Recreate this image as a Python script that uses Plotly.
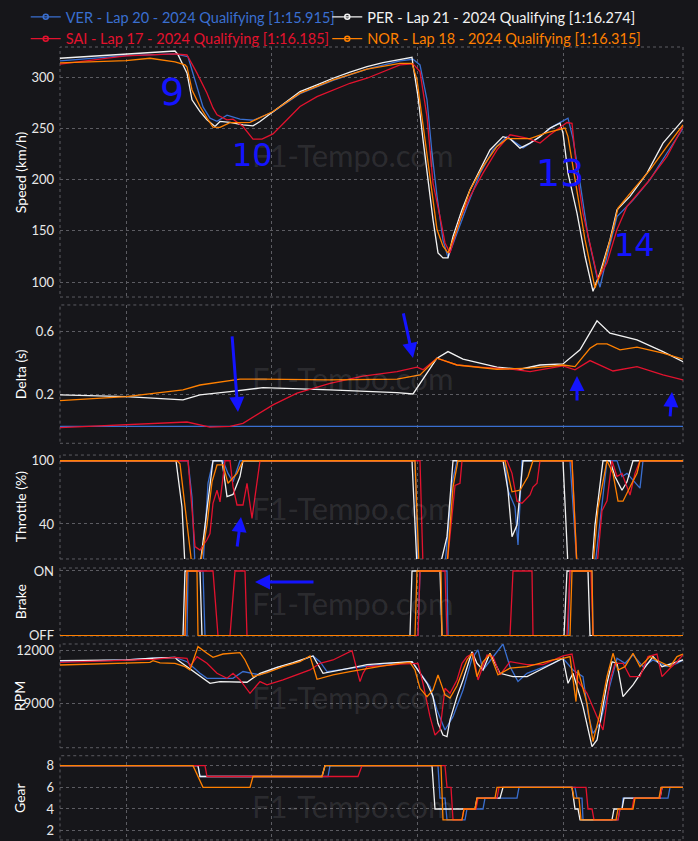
import plotly.graph_objects as go
from plotly.subplots import make_subplots

# ---------------- labels ----------------
drivers = ["VER", "PER", "SAI", "NOR"]
legend_labels = [
    "VER - Lap 20 - 2024 Qualifying [1:15.915]",
    "PER - Lap 21 - 2024 Qualifying [1:16.274]",
    "SAI - Lap 17 - 2024 Qualifying [1:16.185]",
    "NOR - Lap 18 - 2024 Qualifying [1:16.315]",
]
panel_titles = ["Speed (km/h)", "Delta (s)", "Throttle (%)", "Brake", "RPM", "Gear"]
brake_ticktext = ["OFF", "ON"]

# ---------------- speed (km/h) ----------------
ver_speed_d = [60, 126, 175, 188, 195, 203, 210, 217, 227, 240, 253, 273, 300, 333, 367, 400, 413, 420, 427, 432, 437, 443, 448, 457, 467, 480, 493, 507, 523, 537, 553, 568, 573, 580, 588, 597, 600, 607, 617, 633, 650, 667, 683]
ver_speed = [316, 321, 322.7, 320, 297, 271, 260, 257, 263, 259, 258, 266, 284, 297, 308, 316, 317.5, 312, 278, 226, 184, 141, 124, 148, 174, 206, 229, 242, 231, 240, 252, 260, 240, 197, 145, 105, 95, 125, 164, 180, 200, 226, 250]
per_speed_d = [60, 126, 175, 178, 187, 192, 200, 207, 215, 220, 230, 243, 253, 260, 273, 287, 300, 317, 333, 350, 367, 383, 400, 412, 413, 418, 423, 428, 433, 438, 443, 448, 453, 462, 470, 480, 490, 503, 510, 520, 530, 540, 550, 560, 563, 568, 577, 585, 593, 600, 610, 617, 630, 647, 663, 683]
per_speed = [318.5, 322.7, 325.6, 322, 304, 278, 266.5, 258.4, 252, 256.8, 256, 253.5, 252.5, 256.8, 266.5, 276.2, 286, 292.5, 299, 304.9, 310.3, 314.2, 317.5, 319.5, 312, 281, 239, 200, 161, 128.5, 123.6, 123.6, 144.6, 170.6, 190, 209.6, 229, 242, 240, 230.8, 235.7, 242, 250.3, 255.2, 245.4, 206.4, 167.4, 125.2, 91, 108.9, 141.4, 170.6, 183.6, 206.4, 235.7, 258.4]
sai_speed_d = [60, 126, 175, 187, 197, 207, 213, 217, 227, 233, 243, 253, 262, 273, 287, 300, 317, 333, 350, 367, 383, 400, 413, 420, 427, 433, 440, 445, 450, 460, 470, 483, 497, 510, 527, 540, 550, 567, 572, 577, 583, 592, 598, 607, 617, 627, 647, 667, 683]
sai_speed = [312.7, 320.8, 322.7, 321.7, 304, 284.4, 270, 263.3, 258.4, 259, 251.9, 239.6, 239.6, 244.7, 258.4, 271.4, 281, 287.6, 294.1, 299, 305.5, 312, 313, 305.5, 261.6, 196.7, 164, 138.2, 128.5, 161, 183.6, 206.4, 229, 243.8, 240.6, 235.7, 243.8, 255.8, 255, 206.4, 167.4, 128.5, 102.4, 118.8, 151.3, 173.9, 196.7, 222.7, 251.9]
nor_speed_d = [60, 126, 150, 167, 175, 185, 187, 192, 200, 207, 213, 220, 230, 240, 250, 273, 300, 333, 367, 400, 412, 417, 423, 430, 437, 443, 448, 457, 470, 483, 497, 507, 530, 547, 565, 568, 577, 585, 595, 603, 613, 618, 633, 650, 667, 683]
nor_speed = [314, 316.2, 318.5, 316, 315, 312, 310, 287.6, 271.4, 260, 251.3, 251, 255.7, 255.7, 256, 266.5, 284.4, 297.4, 307.8, 313.6, 313.6, 297.4, 252, 200, 151.3, 135, 128.5, 151.3, 190, 212.9, 232.4, 240, 240, 246, 250.3, 242, 190, 141.4, 94.2, 115.6, 151.3, 172.3, 190, 209.6, 232.4, 253.5]

# ---------------- delta (s) ----------------
ver_delta_d = [60, 683]
ver_delta = [0, 0]
per_delta_d = [60, 126, 183, 200, 230, 263, 330, 397, 413, 427, 437, 448, 463, 497, 520, 540, 563, 580, 597, 610, 637, 663, 683]
per_delta = [0.2, 0.189, 0.168, 0.2, 0.221, 0.246, 0.232, 0.215, 0.206, 0.338, 0.433, 0.475, 0.427, 0.376, 0.363, 0.39, 0.397, 0.486, 0.67, 0.592, 0.549, 0.475, 0.411]
sai_delta_d = [60, 126, 187, 210, 230, 243, 257, 273, 297, 330, 363, 397, 417, 423, 437, 457, 480, 513, 530, 563, 575, 590, 613, 637, 663, 683]
sai_delta = [-0.008, 0.009, 0.028, -0.005, 0.0, 0.02, 0.073, 0.137, 0.211, 0.274, 0.32, 0.348, 0.376, 0.36, 0.433, 0.39, 0.376, 0.363, 0.348, 0.384, 0.359, 0.418, 0.352, 0.38, 0.327, 0.295]
nor_delta_d = [60, 126, 183, 200, 240, 263, 330, 397, 420, 437, 457, 497, 530, 563, 575, 590, 597, 607, 620, 637, 663, 683]
nor_delta = [0.164, 0.189, 0.232, 0.263, 0.3, 0.3, 0.295, 0.3, 0.327, 0.433, 0.39, 0.363, 0.37, 0.39, 0.38, 0.496, 0.524, 0.524, 0.486, 0.503, 0.465, 0.427]

# ---------------- throttle (%) ----------------
ver_thr_d = [60, 188, 192, 195, 203, 208, 213, 223, 228, 233, 240, 415, 418, 445, 452, 457, 505, 508, 515, 518, 522, 570, 577, 595, 600, 607, 617, 622, 627, 633, 640, 643, 683]
ver_thr = [100, 100, 65, 0, 0, 78.5, 100, 100, 88, 80, 100, 100, 0, 0, 78.6, 100, 100, 72, 56, 20, 100, 100, 0, 0, 42, 100, 100, 85, 88, 81.5, 74, 100, 100]
per_thr_d = [60, 176, 182, 185, 200, 213, 222, 227, 233, 240, 243, 412, 417, 440, 447, 453, 503, 508, 512, 517, 523, 563, 568, 592, 595, 603, 610, 615, 622, 627, 633, 683]
per_thr = [100, 100, 56, 0, 0, 100, 100, 66, 68, 85, 100, 100, 0, 0, 28, 100, 100, 72, 28, 39, 100, 100, 0, 0, 39, 100, 100, 85, 72, 80, 100, 100]
sai_thr_d = [60, 188, 192, 195, 200, 207, 210, 213, 217, 220, 225, 230, 233, 237, 243, 247, 252, 257, 260, 420, 423, 447, 455, 460, 462, 507, 512, 517, 522, 530, 533, 537, 540, 572, 577, 597, 602, 607, 612, 617, 622, 627, 630, 635, 640, 683]
sai_thr = [100, 100, 54, 18.5, 15.3, 25, 31, 59.6, 72, 61, 100, 100, 75.4, 58, 58, 78.6, 45.4, 80, 100, 100, 0, 0, 76.6, 78.5, 100, 100, 88, 61.6, 59.6, 67.5, 75, 78.6, 100, 100, 0, 0, 52.5, 62, 100, 85, 88, 75, 67.5, 88, 100, 100]
nor_thr_d = [60, 177, 180, 185, 192, 200, 207, 212, 217, 223, 228, 237, 243, 415, 419, 447, 453, 458, 505, 512, 520, 528, 533, 572, 577, 593, 598, 607, 613, 618, 623, 630, 637, 640, 683]
nor_thr = [100, 100, 97, 56, 0, 0, 39, 80, 96, 96, 78.6, 88, 100, 100, 0, 0, 75, 100, 100, 70.5, 72, 85, 100, 100, 0, 0, 55, 100, 88, 61.6, 61.6, 75, 88, 100, 100]

# ---------------- brake (0 = OFF, 1 = ON) ----------------
ver_brk_d = [60, 187, 188, 203, 205, 418, 420, 447, 448, 568, 570, 592, 593, 683]
ver_brk = [0, 0, 1, 1, 0, 0, 1, 1, 0, 0, 1, 1, 0, 0]
per_brk_d = [60, 183, 185, 200, 202, 410, 412, 440, 442, 564, 567, 588, 590, 683]
per_brk = [0, 0, 1, 1, 0, 0, 1, 1, 0, 0, 1, 1, 0, 0]
sai_brk_d = [60, 185, 187, 213, 218, 230, 235, 245, 247, 418, 420, 445, 447, 510, 513, 532, 533, 567, 570, 591, 593, 683]
sai_brk = [0, 0, 1, 1, 0, 0, 1, 1, 0, 0, 1, 1, 0, 0, 1, 1, 0, 0, 1, 1, 0, 0]
nor_brk_d = [60, 185, 187, 197, 198, 415, 417, 441, 442, 570, 572, 592, 593, 683]
nor_brk = [0, 0, 1, 1, 0, 0, 1, 1, 0, 0, 1, 1, 0, 0]

# ---------------- RPM ----------------
ver_rpm_d = [60, 126, 153, 175, 187, 200, 207, 233, 243, 260, 277, 293, 313, 320, 327, 350, 383, 412, 420, 430, 437, 445, 453, 463, 472, 478, 483, 493, 503, 510, 518, 527, 540, 553, 563, 573, 583, 588, 593, 600, 607, 617, 625, 633, 643, 653, 667, 677, 683]
ver_rpm = [11373, 11470, 11567, 11620, 11370, 10710, 10425, 10425, 10810, 10620, 11050, 11280, 11700, 11370, 10810, 11000, 11250, 11370, 10710, 9950, 8620, 7480, 8240, 9760, 11567, 12040, 10900, 11660, 12380, 11090, 10240, 10710, 11000, 11280, 11567, 10900, 10520, 8430, 7290, 7860, 9380, 11567, 11280, 11760, 11090, 11470, 11090, 11280, 11470]
per_rpm_d = [60, 126, 153, 175, 177, 187, 200, 210, 220, 233, 247, 260, 277, 293, 313, 323, 333, 350, 367, 383, 412, 418, 427, 433, 438, 443, 447, 450, 457, 463, 472, 477, 483, 490, 500, 513, 527, 540, 553, 563, 568, 573, 583, 592, 597, 607, 612, 617, 623, 633, 643, 653, 662, 673, 683]
per_rpm = [11430, 11470, 11567, 11620, 11500, 11090, 10520, 10140, 10240, 10240, 10200, 10710, 11050, 11320, 11700, 10710, 10810, 11000, 11200, 11280, 11370, 10900, 10140, 9380, 7860, 7190, 7100, 8050, 9380, 10330, 11940, 11280, 10900, 11850, 10710, 10520, 10520, 10900, 11280, 11567, 10140, 10710, 8810, 6530, 6910, 10140, 11370, 11280, 9380, 10050, 10900, 11660, 11090, 11280, 11470]
sai_rpm_d = [60, 126, 153, 175, 187, 190, 197, 207, 217, 227, 233, 240, 250, 260, 267, 283, 300, 310, 320, 333, 352, 355, 360, 363, 367, 383, 400, 418, 423, 430, 435, 440, 445, 450, 457, 462, 467, 473, 478, 487, 493, 500, 510, 527, 543, 563, 572, 577, 587, 597, 603, 610, 615, 623, 630, 640, 648, 657, 662, 670, 677, 683]
sai_rpm = [11335, 11470, 11500, 11620, 11560, 11090, 11660, 11280, 10710, 10425, 10710, 10330, 9570, 10240, 10050, 10330, 10710, 10900, 11280, 11470, 12000, 11370, 10240, 10710, 11090, 11140, 11230, 11280, 10140, 8240, 7190, 7480, 9860, 9570, 10330, 11280, 11660, 11850, 10330, 11750, 11660, 10620, 11370, 11200, 11200, 11700, 11810, 10330, 9570, 8240, 7480, 10330, 11280, 11280, 10520, 10520, 11660, 11810, 10520, 11000, 11370, 11760]
nor_rpm_d = [60, 126, 150, 153, 160, 175, 185, 190, 198, 207, 213, 223, 240, 245, 253, 267, 283, 300, 310, 317, 333, 350, 367, 383, 400, 410, 415, 420, 427, 433, 438, 445, 450, 457, 463, 467, 472, 477, 483, 490, 498, 510, 527, 540, 553, 563, 570, 576, 578, 587, 593, 600, 607, 613, 618, 625, 633, 640, 650, 660, 670, 677, 683]
nor_rpm = [11184, 11280, 11330, 11430, 11300, 11280, 11090, 10900, 12230, 11850, 11620, 11810, 11890, 11470, 10520, 10750, 11090, 11370, 11700, 10370, 10620, 10810, 11000, 11140, 11280, 11330, 10900, 9855, 9380, 9760, 10615, 9480, 9300, 10000, 10900, 11470, 11850, 10520, 11370, 11810, 10620, 11000, 11090, 11280, 11470, 11567, 11660, 9100, 10900, 9000, 6820, 8430, 10520, 11850, 10900, 11090, 11850, 11090, 11660, 11370, 11090, 11660, 11810]

# ---------------- gear ----------------
ver_gear_d = [60, 198, 200, 328, 330, 438, 440, 445, 447, 465, 467, 483, 485, 517, 519, 575, 577, 582, 583, 618, 620, 622, 623, 668, 670, 683]
ver_gear = [8, 8, 7, 7, 8, 8, 5, 5, 3, 3, 4, 4, 5, 5, 6, 6, 5, 5, 3, 3, 4, 4, 5, 5, 6, 6]
per_gear_d = [60, 198, 200, 322, 325, 432, 435, 475, 477, 500, 503, 572, 575, 578, 580, 612, 614, 622, 624, 660, 662, 683]
per_gear = [8, 8, 7, 7, 8, 8, 4, 4, 5, 5, 6, 6, 4, 4, 3, 3, 4, 4, 5, 5, 6, 6]
sai_gear_d = [60, 205, 207, 358, 362, 445, 447, 451, 453, 462, 464, 476, 478, 497, 499, 586, 588, 592, 594, 618, 620, 632, 634, 660, 662, 683]
sai_gear = [8, 8, 7, 7, 8, 8, 6, 6, 3, 3, 4, 4, 5, 5, 6, 6, 4, 4, 3, 3, 4, 4, 5, 5, 6, 6]
nor_gear_d = [60, 193, 203, 250, 253, 322, 325, 441, 443, 462, 464, 475, 477, 495, 497, 572, 574, 579, 581, 616, 618, 633, 635, 659, 661, 683]
nor_gear = [8, 8, 6, 6, 7, 7, 8, 8, 3, 3, 4, 4, 5, 5, 6, 6, 5, 5, 3, 3, 4, 4, 5, 5, 6, 6]

# ---------------- styling ----------------
colors = {"VER": "#3a6fd0", "PER": "#f2f2f2", "SAI": "#e3122e", "NOR": "#ff8000"}
legend_of = {"VER": "legend", "SAI": "legend", "PER": "legend2", "NOR": "legend2"}
BG = "#16161a"
GRID = "#5c5c62"
FONT = "Lato"
LW = 1.3

channels = [
    {"VER": (ver_speed_d, ver_speed), "PER": (per_speed_d, per_speed), "SAI": (sai_speed_d, sai_speed), "NOR": (nor_speed_d, nor_speed)},
    {"VER": (ver_delta_d, ver_delta), "PER": (per_delta_d, per_delta), "SAI": (sai_delta_d, sai_delta), "NOR": (nor_delta_d, nor_delta)},
    {"VER": (ver_thr_d, ver_thr), "PER": (per_thr_d, per_thr), "SAI": (sai_thr_d, sai_thr), "NOR": (nor_thr_d, nor_thr)},
    {"VER": (ver_brk_d, ver_brk), "PER": (per_brk_d, per_brk), "SAI": (sai_brk_d, sai_brk), "NOR": (nor_brk_d, nor_brk)},
    {"VER": (ver_rpm_d, ver_rpm), "PER": (per_rpm_d, per_rpm), "SAI": (sai_rpm_d, sai_rpm), "NOR": (nor_rpm_d, nor_rpm)},
    {"VER": (ver_gear_d, ver_gear), "PER": (per_gear_d, per_gear), "SAI": (sai_gear_d, sai_gear), "NOR": (nor_gear_d, nor_gear)},
]

fig = make_subplots(rows=6, cols=1, shared_xaxes=True, vertical_spacing=0.01)

for r, ch in enumerate(channels, start=1):
    for drv in drivers:
        xs, ys = ch[drv]
        fig.add_trace(go.Scatter(x=xs, y=ys, mode="lines", line=dict(color=colors[drv], width=LW),
                                 showlegend=False, hoverinfo="skip"), row=r, col=1)

# legend entries (two columns: VER/SAI left, PER/NOR right)
for drv, lab in zip(drivers, legend_labels):
    fig.add_trace(go.Scatter(x=[None], y=[None], mode="lines+markers",
                             line=dict(color=colors[drv], width=1.2),
                             marker=dict(symbol="circle-open", size=5, color=colors[drv], line=dict(width=1.5)),
                             legend=legend_of[drv],
                             name=f"<span style='color:{colors[drv]}'>{lab}</span>"), row=1, col=1)

domains = [[0.6851, 1.0], [0.5009, 0.6751], [0.3552, 0.4861], [0.2582, 0.3438], [0.1175, 0.2481], [0.0013, 0.1074]]
yranges = [[85.4, 329.5], [-0.107, 0.771], [6.8, 105.4], [-0.005, 1.046], [6470, 12380], [1.14, 8.92]]
ytickvals = [[100, 150, 200, 250, 300], [0.2, 0.6], [40, 100], [0, 1], [9000, 12000], [2, 4, 6, 8]]

axis_common = dict(showgrid=True, gridcolor=GRID, griddash="dot", gridwidth=1, zeroline=False,
                   showline=False, ticks="", automargin=False,
                   tickfont=dict(family=FONT, size=13, color="#e8e8e8"))

for i in range(6):
    yk = "yaxis" if i == 0 else f"yaxis{i+1}"
    xk = "xaxis" if i == 0 else f"xaxis{i+1}"
    ycfg = dict(axis_common, domain=domains[i], range=yranges[i], tickmode="array", tickvals=ytickvals[i],
                ticklabelstandoff=5)
    if i == 4:
        ycfg["tickformat"] = "d"
    if i == 3:
        ycfg["ticktext"] = brake_ticktext
    if i == 1:
        ycfg["tickformat"] = ".1f"
    fig.update_layout({yk: ycfg})
    fig.update_layout({xk: dict(axis_common, range=[60, 683], tickmode="linear", tick0=126, dtick=145.7,
                                showticklabels=False)})

# dotted panel borders
for i in range(6):
    xr = "x domain" if i == 0 else f"x{i+1} domain"
    yr = "y domain" if i == 0 else f"y{i+1} domain"
    fig.add_shape(type="rect", xref=xr, yref=yr, x0=0, x1=1, y0=0, y1=1,
                  line=dict(color=GRID, width=1, dash="dot"), layer="below")

annotations = []
# axis titles
for i, t in enumerate(panel_titles):
    yr = "y domain" if i == 0 else f"y{i+1} domain"
    annotations.append(dict(text=t, xref="paper", x=-0.064, yref=yr, y=0.5, textangle=-90,
                            showarrow=False, xanchor="center", yanchor="middle",
                            font=dict(family=FONT, size=14, color="#ffffff")))
# watermark
wm_y = [0.57, 0.47, 0.49, 0.49, 0.49, 0.4]
for i, wy in enumerate(wm_y):
    yr = "y domain" if i == 0 else f"y{i+1} domain"
    annotations.append(dict(text="F1-Tempo.com", xref="x", x=352, yref=yr, y=wy, showarrow=False,
                            font=dict(family=FONT, size=31, color="rgba(255,255,255,0.10)")))
# hand-drawn corner labels
HAND = "#1414ff"
for txt, x, y, s in [("9", 172, 285.7, 38), ("10", 252, 224, 32), ("13", 560, 206.6, 38), ("14", 634, 136.6, 32)]:
    annotations.append(dict(text=txt, xref="x", yref="y", x=x, y=y, showarrow=False,
                            font=dict(family="DejaVu Sans", size=s, color=HAND)))
# hand-drawn arrows
for yref, x, y, ax, ay in [("y2", 238, 0.092, -6, -77), ("y2", 413, 0.435, -10, -46),
                           ("y2", 577, 0.32, 0, 26), ("y2", 672, 0.219, -2, 26),
                           ("y3", 241, 46.6, -4, 31), ("y4", 255, 0.83, 60, 0)]:
    annotations.append(dict(text="", xref="x", yref=yref, x=x, y=y, ax=ax, ay=ay, showarrow=True,
                            arrowhead=2, arrowsize=1, arrowwidth=3, arrowcolor=HAND))

legend_common = dict(orientation="v", y=1.058, xanchor="left", yanchor="top", itemwidth=30,
                     font=dict(family=FONT, size=14.5), bgcolor="rgba(0,0,0,0)", tracegroupgap=0)

fig.update_layout(
    width=698, height=841,
    margin=dict(l=60, r=15, t=47, b=0, autoexpand=False),
    paper_bgcolor=BG, plot_bgcolor=BG,
    font=dict(family=FONT, color="#ffffff"),
    showlegend=True,
    legend=dict(legend_common, x=-0.055),
    legend2=dict(legend_common, x=0.429),
    annotations=annotations,
)

fig.write_html("out.html", config={"displayModeBar": False},
               post_script="document.body.style.margin='0px';document.body.style.background='" + BG + "';")
